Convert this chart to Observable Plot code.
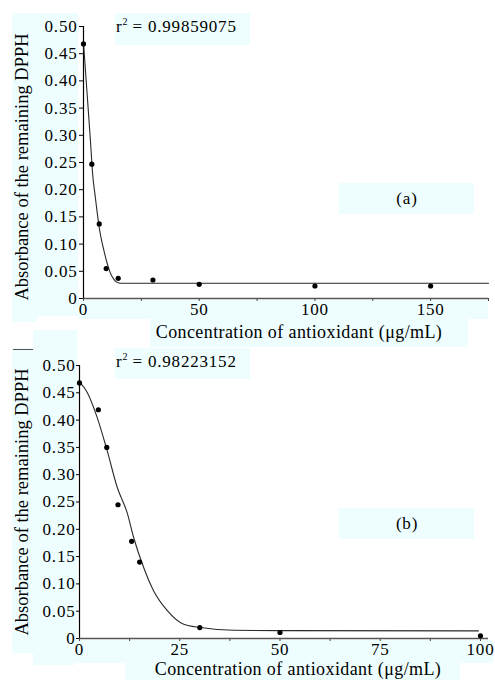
<!DOCTYPE html>
<html>
<head>
<meta charset="utf-8">
<script src="https://cdn.jsdelivr.net/npm/d3@7"></script>
<script src="https://cdn.jsdelivr.net/npm/@observablehq/plot@0.6"></script>
<style>
  html, body { margin: 0; padding: 0; background: white; }
  #page { position: relative; width: 495px; height: 680px; overflow: hidden; font-family: "Liberation Serif", "DejaVu Serif", serif; color: black; }
  .bg { position: absolute; background: #eefeff; z-index: 0; }
  .chart { position: absolute; left: 0; z-index: 1; }
  .txt { position: absolute; z-index: 2; white-space: nowrap; line-height: 1; }
  .ytitle { font-size: 18.5px; transform: translate(-50%, -50%) rotate(-90deg); }
  .xtitle { font-size: 18px; letter-spacing: 0.4px; transform: translate(-50%, -50%); }
  .ann { font-size: 17px; letter-spacing: 0.8px; }
  .ann sup { font-size: 10px; vertical-align: 7px; line-height: 0; letter-spacing: 0; }
  .lab { font-size: 17px; letter-spacing: 0.8px; transform: translate(-50%, -50%); }
</style>
</head>
<body>
<div id="page">
  <!-- light cyan highlight boxes -->
  <div class="bg" style="left:12px;top:13px;width:66px;height:303px"></div>
  <div class="bg" style="left:12px;top:316px;width:25px;height:6px"></div>
  <div class="bg" style="left:115px;top:13px;width:135px;height:32px"></div>
  <div class="bg" style="left:339px;top:183px;width:135px;height:31px"></div>
  <div class="bg" style="left:78px;top:300px;width:410px;height:19px"></div>
  <div class="bg" style="left:150px;top:319px;width:318px;height:28px"></div>
  <div class="bg" style="left:33px;top:330px;width:44px;height:18px"></div>
  <div class="bg" style="left:12px;top:348px;width:65px;height:305px"></div>
  <div class="bg" style="left:33px;top:653px;width:42px;height:12px"></div>
  <div class="bg" style="left:115px;top:348px;width:135px;height:31px"></div>
  <div class="bg" style="left:339px;top:508px;width:135px;height:31px"></div>
  <div class="bg" style="left:75px;top:640px;width:418px;height:23px"></div>
  <div class="bg" style="left:125px;top:663px;width:335px;height:17px"></div>
  <div style="position:absolute;left:13px;top:349px;width:20px;height:1px;background:#555;z-index:1"></div>

  <div id="top" class="chart" style="top:0px"></div>
  <div id="bot" class="chart" style="top:340px"></div>

  <div class="txt ytitle" style="left:22px;top:167px">Absorbance of the remaining DPPH</div>
  <div class="txt xtitle" style="left:299px;top:332px">Concentration of antioxidant (μg/mL)</div>
  <div class="txt ann" style="left:116px;top:18px">r<sup>2</sup> = 0.99859075</div>
  <div class="txt lab" style="left:407px;top:198px">(a)</div>

  <div class="txt ytitle" style="left:22px;top:502px">Absorbance of the remaining DPPH</div>
  <div class="txt xtitle" style="left:298px;top:669px">Concentration of antioxidant (μg/mL)</div>
  <div class="txt ann" style="left:116px;top:353px">r<sup>2</sup> = 0.98223152</div>
  <div class="txt lab" style="left:407px;top:523px">(b)</div>
</div>
<script>
// ---- data ----
// Panel (a)
const topConc = [0, 3.6, 6.8, 9.8, 15, 30, 50, 100, 150];
const topAbs  = [0.468, 0.247, 0.137, 0.055, 0.037, 0.034, 0.026, 0.023, 0.023];
const topFitConc = [0, 1, 2, 3, 4, 5, 6, 7, 8, 9, 10, 11, 12, 13, 14, 15, 16, 175];
const topFitAbs  = [0.47, 0.41, 0.35, 0.29, 0.226, 0.19, 0.155, 0.125, 0.103, 0.085, 0.068, 0.054, 0.043, 0.036, 0.031, 0.029, 0.028, 0.028];
const topXTicks = [0, 25, 50, 75, 100, 125, 150, 175];
const topXLabels = [0, 50, 100, 150];

// Panel (b)
const botConc = [0, 4.7, 6.8, 9.6, 13, 15, 30, 50, 100];
const botAbs  = [0.468, 0.419, 0.35, 0.245, 0.178, 0.14, 0.02, 0.011, 0.005];
const botFitConc = [0, 1.9, 4.4, 6.9, 9.4, 11.9, 13.5, 16, 18.5, 21.9, 26, 30.2, 38.5, 50, 99.5];
const botFitAbs  = [0.47, 0.451, 0.405, 0.344, 0.277, 0.23, 0.185, 0.13, 0.087, 0.051, 0.026, 0.02, 0.015, 0.0145, 0.014];
const botXTicks = [0, 12.5, 25, 37.5, 50, 62.5, 75, 87.5, 100];
const botXLabels = [0, 25, 50, 75, 100];

const yTicks = [0, 0.05, 0.10, 0.15, 0.20, 0.25, 0.30, 0.35, 0.40, 0.45, 0.50];
const yFmt = d => d === 0 ? "0" : d.toFixed(2);

function panel({conc, abs, fitX, fitY, xDomain, xTicks, xLabels, marginLeft, marginTop, marginBottom, ytickSize, ytickPad}) {
  const pts = conc.map((c, i) => ({c, a: abs[i]}));
  const fit = fitX.map((c, i) => ({c, a: fitY[i]}));
  return Plot.plot({
    width: 495,
    height: 340,
    marginLeft, marginRight: 7, marginTop, marginBottom,
    style: {background: "transparent", fontFamily: "Liberation Serif", fontSize: "17px", letterSpacing: "0.8px", color: "black", overflow: "visible"},
    x: {domain: xDomain},
    y: {domain: [0, 0.5]},
    marks: [
      Plot.axisY({ticks: yTicks, tickFormat: yFmt, tickSize: ytickSize, tickPadding: ytickPad, label: null}),
      Plot.axisX({ticks: xTicks, tickFormat: d => xLabels.includes(d) ? String(d) : "", tickSize: 3, tickPadding: 1, label: null, stroke: "#444"}),
      Plot.ruleY([0], {stroke: "#555", strokeWidth: 1.6}),
      Plot.ruleX([0], {y1: 0, y2: 0.5, stroke: "black", strokeWidth: 1.2}),
      Plot.line(fit, {x: "c", y: "a", curve: "monotone-x", stroke: "#2a2a2a", strokeWidth: 1.1}),
      Plot.dot(pts, {x: "c", y: "a", r: 2.6, fill: "black", stroke: "none"})
    ]
  });
}

document.getElementById("top").append(panel({
  conc: topConc, abs: topAbs, fitX: topFitConc, fitY: topFitAbs,
  xDomain: [0, 175], xTicks: topXTicks, xLabels: topXLabels,
  marginLeft: 83, marginTop: 26, marginBottom: 42, ytickSize: 4, ytickPad: 2
}));
document.getElementById("bot").append(panel({
  conc: botConc, abs: botAbs, fitX: botFitConc, fitY: botFitAbs,
  xDomain: [0, 102], xTicks: botXTicks, xLabels: botXLabels,
  marginLeft: 79, marginTop: 25, marginBottom: 42, ytickSize: 3, ytickPad: 1
}));
</script>
</body>
</html>
